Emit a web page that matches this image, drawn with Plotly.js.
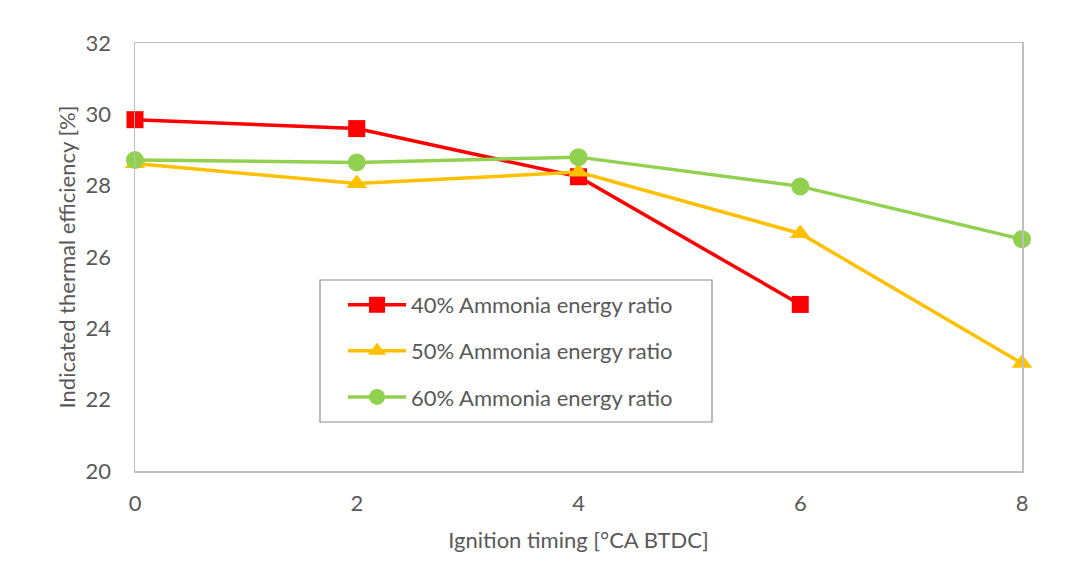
<!DOCTYPE html>
<html>
<head>
<meta charset="utf-8">
<script src="https://cdn.plot.ly/plotly-3.0.1.min.js"></script>
<style>
  html, body { margin: 0; padding: 0; background: #ffffff; }
  #chart { width: 1085px; height: 584px; }
</style>
</head>
<body>
<div id="chart"></div>
<script>
// Ignition timing sweep, °CA BTDC
const ignitionTiming = [0, 2, 4, 6, 8];

// Indicated thermal efficiency [%] for each ammonia energy ratio
const nh3_40 = [29.85, 29.60, 28.25, 24.67];
const nh3_50 = [28.62, 28.06, 28.38, 26.66, 23.02];
const nh3_60 = [28.72, 28.65, 28.80, 27.98, 26.50];

const seriesNames = [
  '40% Ammonia energy ratio',
  '50% Ammonia energy ratio',
  '60% Ammonia energy ratio'
];

const xTicks = [0, 2, 4, 6, 8];
const yTicks = [20, 22, 24, 26, 28, 30, 32];

const textColor = '#595959';
const fontFamily = 'Lato, "Open Sans", sans-serif';
const fontSize = 22;

function series(x, y, name, color, symbol, size, group) {
  return {
    x: x, y: y, name: name, type: 'scatter', mode: 'lines+markers',
    legendgroup: group,
    cliponaxis: false,
    line: { color: color, width: 3.5 },
    marker: { color: color, symbol: symbol, size: size, line: { width: 0 } },
    hoverinfo: 'x+y+name'
  };
}

const traces = [
  series(ignitionTiming.slice(0, nh3_40.length), nh3_40, seriesNames[0], '#FF0000', 'square', 17, 'g1'),
  series(ignitionTiming, nh3_50, seriesNames[1], '#FFC000', 'triangle-up', 18, 'g2'),
  series(ignitionTiming, nh3_60, seriesNames[2], '#92D050', 'circle', 18, 'g3')
];

const layout = {
  width: 1085,
  height: 584,
  margin: { l: 135, r: 63, t: 43, b: 113, pad: 0 },
  paper_bgcolor: '#ffffff',
  plot_bgcolor: '#ffffff',
  font: { family: fontFamily, size: fontSize, color: textColor },
  showlegend: true,
  legend: {
    x: 0.2345, y: 0.437, xanchor: 'left', yanchor: 'top',
    bgcolor: 'rgba(255,255,255,0)',
    borderwidth: 0,
    itemwidth: 58,
    traceorder: 'grouped',
    tracegroupgap: 14.5,
    font: { family: fontFamily, size: fontSize, color: textColor }
  },
  xaxis: {
    range: [0, 8],
    tickvals: xTicks,
    ticktext: xTicks.map(String),
    ticks: '',
    ticklabelstandoff: 12,
    showgrid: false,
    zeroline: false,
    showline: true,
    mirror: true,
    linecolor: '#bfbfbf',
    linewidth: 1.5,
    title: { text: 'Ignition timing [°CA BTDC]', standoff: 17, font: { size: fontSize, color: textColor } }
  },
  yaxis: {
    range: [20, 32],
    tickvals: yTicks,
    ticktext: yTicks.map(String),
    ticks: '',
    ticklabelstandoff: 18,
    showgrid: false,
    zeroline: false,
    showline: true,
    mirror: true,
    linecolor: '#bfbfbf',
    linewidth: 1.5,
    title: { text: 'Indicated thermal efficiency [%]', standoff: 4, font: { size: fontSize, color: textColor } }
  },
  shapes: [
    {
      // frame around the legend
      type: 'rect', xref: 'paper', yref: 'paper',
      x0: (320 - 135) / 887, x1: (712 - 135) / 887,
      y0: (471 - 422) / 428, y1: (471 - 280) / 428,
      line: { color: '#8c8c8c', width: 1.2 },
      fillcolor: 'rgba(0,0,0,0)',
      layer: 'above'
    }
  ]
};

Plotly.newPlot('chart', traces, layout, { displayModeBar: false, staticPlot: true });
</script>
</body>
</html>
